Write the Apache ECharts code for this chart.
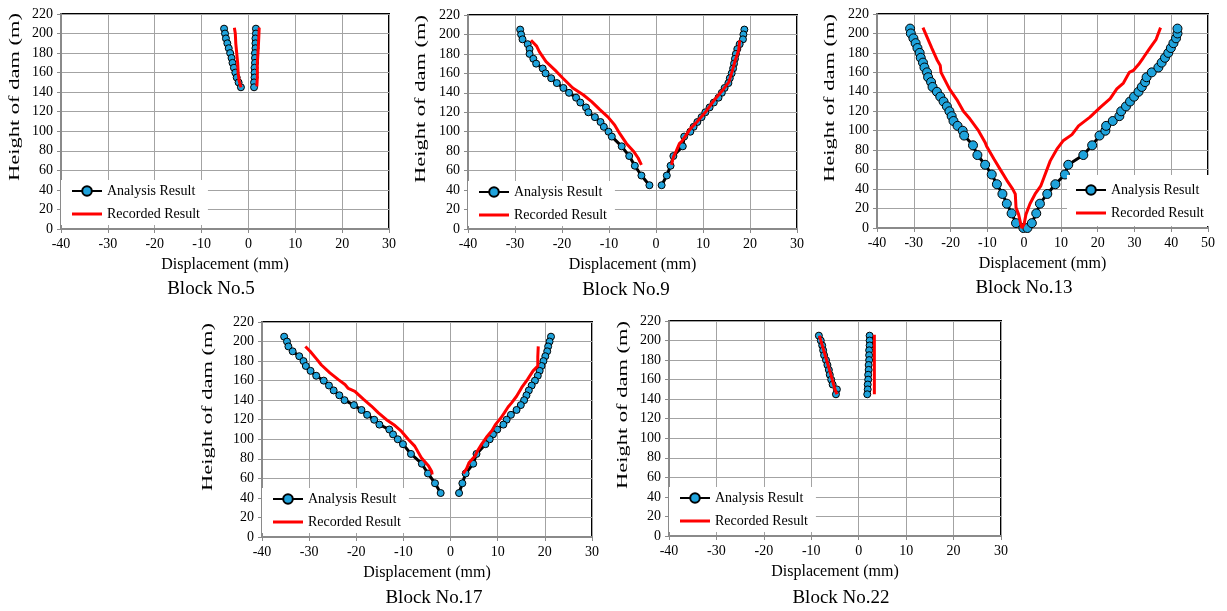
<!DOCTYPE html>
<html>
<head>
<meta charset="utf-8">
<script src="https://cdn.jsdelivr.net/npm/echarts@6/dist/echarts.min.js"></script>
<style>
html,body{margin:0;padding:0;background:#fff;}
#c{width:1227px;height:611px;}
</style>
</head>
<body>
<div id="c"></div>
<script>
// ================= DATA =================
// heights (m) of the analysis points
const H_TOP  = [205,200,195,190,185,180,175,170,165,160,155,150,145];
const H_MID  = [205,200,195,190,185,180,175,170,165,160,155,150,145,140,135,130,125,120,115,110,105,100,95,85,75,65,55,45];
const H_FULL = [205,200,195,190,185,180,175,170,165,160,155,150,145,140,135,130,125,120,115,110,105,100,95,85,75,65,55,45,35,25,15,5,0];

// Block No.5
const B5_ANALYSIS_L = [-5.2,-5.0,-4.8,-4.5,-4.2,-3.9,-3.6,-3.4,-3.1,-2.8,-2.5,-2.1,-1.6];
const B5_ANALYSIS_R = [1.6,1.6,1.5,1.5,1.5,1.4,1.4,1.4,1.3,1.3,1.3,1.2,1.2];
const B5_RECORDED_L = [[-3.0,206],[-2.8,200],[-2.7,190],[-2.5,180],[-2.3,170],[-2.2,160],[-2.0,152],[-1.6,145]];
const B5_RECORDED_R = [[2.3,206],[2.2,195],[2.1,185],[1.9,170],[1.9,155],[1.8,146]];

// Block No.9
const B9_ANALYSIS_L = [-28.9,-28.7,-28.4,-27.3,-26.9,-26.9,-26.1,-25.5,-24.1,-23.5,-22.3,-21.1,-19.7,-18.5,-17.0,-16.1,-14.9,-14.4,-13.0,-11.8,-11.1,-10.1,-9.4,-7.3,-5.7,-4.5,-3.1,-1.4];
const B9_ANALYSIS_R = [18.8,18.6,18.5,17.8,17.3,17.0,16.8,16.6,16.4,16.1,15.7,15.4,14.6,14.0,13.3,12.3,11.4,10.5,9.7,8.8,8.0,7.3,6.0,5.7,3.7,3.1,2.3,1.2];
const B9_RECORDED_L = [[-26.6,194],[-25.4,188],[-24.8,182],[-23.4,172],[-21.2,162],[-19.8,155],[-17.7,145],[-15.5,138],[-13.7,131],[-12.0,123],[-10.2,115],[-8.8,107],[-7.7,98],[-6.3,88],[-4.8,80],[-3.8,73],[-3.1,66]];
const B9_RECORDED_R = [[3.3,66],[3.7,74],[4.3,80],[5.0,88],[5.5,90],[7.3,103],[8.7,110],[10.5,120],[12.3,132],[14.4,144],[15.5,151],[16.2,162],[16.9,174],[17.6,184],[17.8,194]];

// Block No.13
const B13_ANALYSIS_L = [-31.0,-30.8,-30.1,-29.5,-29.0,-28.4,-28.1,-27.5,-27.1,-26.4,-26.1,-25.3,-24.9,-23.7,-22.8,-21.9,-21.0,-20.3,-19.7,-19.2,-18.1,-16.7,-16.3,-13.9,-12.7,-10.6,-8.8,-7.4,-5.9,-4.7,-3.4,-2.2,-0.2];
const B13_ANALYSIS_R = [41.7,41.7,41.3,40.6,39.9,39.2,38.3,37.4,36.5,34.7,33.3,32.9,32.0,31.1,29.9,28.8,27.7,26.4,25.9,24.1,22.3,22.1,20.5,18.5,16.1,12.0,11.1,8.5,6.3,4.3,3.3,2.1,0.9];
const B13_RECORDED_L = [[-27.5,206],[-25.1,185],[-23.7,173],[-22.8,167],[-22.6,160],[-20.3,143],[-18.3,132],[-16.5,120],[-14.7,112],[-12.4,100],[-10.6,88],[-10.2,84],[-8.2,71],[-6.3,59],[-4.7,49],[-3.1,40],[-2.4,35],[-2.2,21],[-1.5,14],[-0.9,4],[-0.6,0]];
const B13_RECORDED_R = [[0.0,4],[0.5,14],[1.6,25],[3.0,35],[4.5,43],[5.4,52],[7.1,69],[8.9,81],[10.7,90],[13.0,96],[14.8,105],[17.9,114],[20.7,124],[23.4,133],[25.2,143],[27.0,149],[28.6,160],[29.7,162],[31.1,168],[32.4,175],[34.2,185],[35.9,194],[37.1,206]];

// Block No.17
const B17_ANALYSIS_L = [-35.3,-34.7,-34.4,-33.5,-32.1,-31.2,-30.7,-29.7,-28.5,-26.9,-25.8,-24.8,-23.6,-22.5,-20.5,-18.9,-17.7,-16.2,-15.1,-13.0,-12.2,-11.2,-10.1,-8.4,-6.1,-4.8,-3.3,-2.1];
const B17_ANALYSIS_R = [21.3,21.0,20.7,20.5,20.1,19.7,19.3,18.9,18.5,17.9,17.2,16.6,16.1,15.6,14.9,14.0,12.8,11.9,11.2,9.9,9.0,8.3,7.4,5.5,4.8,3.2,2.5,1.8];
const B17_RECORDED_L = [[-30.8,195],[-29.8,190],[-28.4,182],[-27.4,176],[-25.6,168],[-23.8,161],[-22.4,156],[-21.7,152],[-20.3,149],[-18.5,141],[-16.8,134],[-15.3,127],[-13.6,120],[-11.8,114],[-10.4,108],[-9.0,100],[-7.6,93],[-6.2,81],[-4.7,73],[-4.0,67],[-3.9,64]];
const B17_RECORDED_R = [[2.7,65],[3.4,70],[3.9,76],[5.2,83],[5.7,88],[6.6,95],[7.6,102],[8.8,109],[9.5,115],[10.7,122],[11.4,127],[12.2,133],[12.9,137],[14.0,144],[15.1,153],[16.3,161],[17.5,170],[18.5,175],[18.5,184],[18.6,195]];

// Block No.22
const B22_ANALYSIS_L = [-8.4,-8.0,-7.7,-7.5,-7.3,-6.9,-6.6,-6.3,-6.1,-5.8,-5.5,-4.6,-4.8];
const B22_ANALYSIS_R = [2.3,2.3,2.3,2.2,2.2,2.2,2.1,2.1,2.0,2.0,1.9,1.9,1.8];
const B22_RECORDED_L = [[-8.3,205],[-6.4,174],[-5.0,150],[-4.6,145]];
const B22_RECORDED_R = [[3.3,206],[3.3,145]];

const CAPTIONS = ['Block No.5','Block No.9','Block No.13','Block No.17','Block No.22'];
const SERIES_NAMES = ['Analysis Result','Recorded Result'];
const X_TITLE = 'Displacement (mm)';
const Y_TITLE = 'Height of dam (m)';
const X_MIN = -40, X_MAX_A = 30, X_MAX_B = 50, X_STEP = 10;
const Y_MIN = 0, Y_MAX = 220, Y_STEP = 20;

// ================= PANELS =================
const PANELS = [
  {anaL:B5_ANALYSIS_L,  anaR:B5_ANALYSIS_R,  h:H_TOP,  recL:B5_RECORDED_L,  recR:B5_RECORDED_R,  xMax:X_MAX_A, joined:false},
  {anaL:B9_ANALYSIS_L,  anaR:B9_ANALYSIS_R,  h:H_MID,  recL:B9_RECORDED_L,  recR:B9_RECORDED_R,  xMax:X_MAX_A, joined:false},
  {anaL:B13_ANALYSIS_L, anaR:B13_ANALYSIS_R, h:H_FULL, recL:B13_RECORDED_L, recR:B13_RECORDED_R, xMax:X_MAX_B, joined:true},
  {anaL:B17_ANALYSIS_L, anaR:B17_ANALYSIS_R, h:H_MID,  recL:B17_RECORDED_L, recR:B17_RECORDED_R, xMax:X_MAX_A, joined:false},
  {anaL:B22_ANALYSIS_L, anaR:B22_ANALYSIS_R, h:H_TOP,  recL:B22_RECORDED_L, recR:B22_RECORDED_R, xMax:X_MAX_A, joined:false}
];

// layout (pixels)
const LAYOUT = [
  {grid:[61,14,328,215],  legend:[61,180],   lpad:[4,8,4,10], yTitle:[15,97],   caption:[211,289],  sym:7},
  {grid:[468,15,329,214], legend:[468,181],  lpad:[4,8,4,10], yTitle:[421,99],  caption:[626,290],  sym:7},
  {grid:[877,14,331,214], legend:[1067,175], lpad:[8,8,6,8],  yTitle:[830,98],  caption:[1024,288], sym:9},
  {grid:[262,322,330,215],legend:[262,488],  lpad:[4,8,4,10], yTitle:[208,407], caption:[434,598],  sym:7},
  {grid:[669,321,332,215],legend:[669,487],  lpad:[4,8,4,10], yTitle:[623,405], caption:[841,598],  sym:7}
];

const FONT = '"Liberation Serif","Times New Roman",serif';
const BLUE = '#1fa3dc';
const pairs = (xs, hs) => xs.map((x, i) => [x, hs[i]]);

const grids = [], xAxes = [], yAxes = [], series = [], legends = [], graphics = [];

PANELS.forEach((p, i) => {
  const L = LAYOUT[i];
  grids.push({
    left:L.grid[0], top:L.grid[1], width:L.grid[2], height:L.grid[3],
    show:true, borderColor:'#000', borderWidth:2, backgroundColor:'transparent',
    containLabel:false, outerBoundsMode:'none'
  });
  xAxes.push({
    type:'value', gridIndex:i, min:X_MIN, max:p.xMax, interval:X_STEP,
    axisLine:{show:true, onZero:false, lineStyle:{color:'#8a8a8a', width:2}},
    axisTick:{show:true, inside:false, length:4, lineStyle:{color:'#8a8a8a', width:1}},
    axisLabel:{color:'#000', fontFamily:FONT, fontSize:14, margin:8},
    splitLine:{show:true, lineStyle:{color:'#a3a3a3', width:1}},
    name:X_TITLE, nameLocation:'middle', nameGap:28,
    nameTextStyle:{color:'#000', fontFamily:FONT, fontSize:16}
  });
  yAxes.push({
    type:'value', gridIndex:i, min:Y_MIN, max:Y_MAX, interval:Y_STEP,
    axisLine:{show:true, onZero:false, lineStyle:{color:'#8a8a8a', width:2}},
    axisTick:{show:true, inside:false, length:4, lineStyle:{color:'#8a8a8a', width:1}},
    axisLabel:{color:'#000', fontFamily:FONT, fontSize:14, margin:8},
    splitLine:{show:true, lineStyle:{color:'#a3a3a3', width:1}}
  });
  const anaStyle = {
    type:'line', name:SERIES_NAMES[0], xAxisIndex:i, yAxisIndex:i,
    symbol:'circle', symbolSize:L.sym, showSymbol:true,
    lineStyle:{color:'#000', width:3},
    itemStyle:{color:BLUE, borderColor:'#000', borderWidth:1},
    z:2, animation:false, silent:true
  };
  const recStyle = {
    type:'line', name:SERIES_NAMES[1], xAxisIndex:i, yAxisIndex:i,
    symbol:'none', lineStyle:{color:'#ff0000', width:3},
    itemStyle:{color:'#ff0000'}, z:3, animation:false, silent:true
  };
  const aL = pairs(p.anaL, p.h), aR = pairs(p.anaR, p.h);
  if (p.joined) {
    series.push(Object.assign({}, anaStyle, {data: aL.concat(aR.slice().reverse())}));
    series.push(Object.assign({}, recStyle, {data: p.recL.concat(p.recR)}));
  } else {
    series.push(Object.assign({}, anaStyle, {data: aL}));
    series.push(Object.assign({}, anaStyle, {data: aR}));
    series.push(Object.assign({}, recStyle, {data: p.recL}));
    series.push(Object.assign({}, recStyle, {data: p.recR}));
  }
  legends.push({
    orient:'vertical', left:L.legend[0], top:L.legend[1],
    itemWidth:30, itemHeight:12, itemGap:9,
    padding:L.lpad, backgroundColor:'#fff',
    selectedMode:false, symbolKeepAspect:true,
    textStyle:{color:'#000', fontFamily:FONT, fontSize:14},
    data:[
      {name:SERIES_NAMES[0]},
      {name:SERIES_NAMES[1], icon:'path://M0,0H30V3H0Z', itemStyle:{color:'#ff0000'}}
    ]
  });
  graphics.push({
    type:'text', x:L.yTitle[0], y:L.yTitle[1], rotation:Math.PI/2,
    scaleX:1.25, scaleY:0.82, z:10,
    style:{text:Y_TITLE, font:'18px ' + FONT, fill:'#000',
           align:'center', verticalAlign:'middle', textAlign:'center', textVerticalAlign:'middle'}
  });
  graphics.push({
    type:'text', x:L.caption[0], y:L.caption[1], z:10,
    style:{text:CAPTIONS[i], font:'19px ' + FONT, fill:'#000',
           align:'center', verticalAlign:'middle', textAlign:'center', textVerticalAlign:'middle'}
  });
});

const chart = echarts.init(document.getElementById('c'), null, {renderer:'canvas'});
chart.setOption({
  backgroundColor:'#fff',
  animation:false,
  grid:grids, xAxis:xAxes, yAxis:yAxes, series:series, legend:legends,
  graphic:{elements:graphics}
});
</script>
</body>
</html>
